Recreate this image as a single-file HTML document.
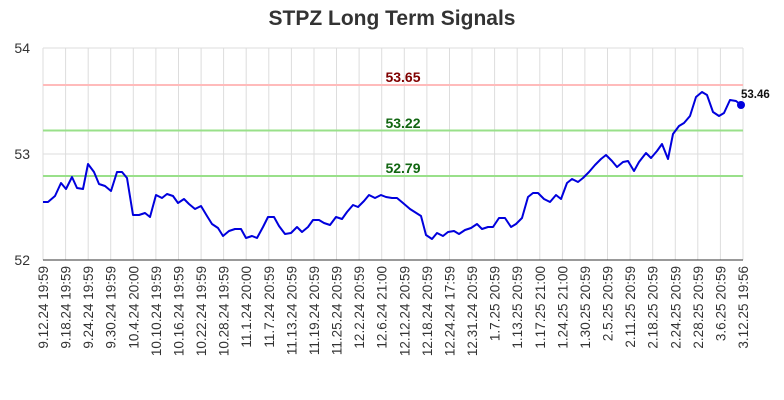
<!DOCTYPE html>
<html><head><meta charset="utf-8"><style>body{margin:0;background:#fff}svg{display:block}</style></head><body>
<svg width="784" height="400" xmlns="http://www.w3.org/2000/svg" font-family="Liberation Sans, DejaVu Sans, sans-serif">
<text x="392" y="25" text-anchor="middle" font-size="21" font-weight="bold" fill="#333">STPZ Long Term Signals</text>
<g stroke="#ddd" stroke-width="1">
<line x1="43" y1="48" x2="743" y2="48"/><line x1="43" y1="154" x2="743" y2="154"/>
<line x1="43.0" y1="48" x2="43.0" y2="260"/><line x1="65.6" y1="48" x2="65.6" y2="260"/><line x1="88.2" y1="48" x2="88.2" y2="260"/><line x1="110.7" y1="48" x2="110.7" y2="260"/><line x1="133.3" y1="48" x2="133.3" y2="260"/><line x1="155.9" y1="48" x2="155.9" y2="260"/><line x1="178.5" y1="48" x2="178.5" y2="260"/><line x1="201.1" y1="48" x2="201.1" y2="260"/><line x1="223.6" y1="48" x2="223.6" y2="260"/><line x1="246.2" y1="48" x2="246.2" y2="260"/><line x1="268.8" y1="48" x2="268.8" y2="260"/><line x1="291.4" y1="48" x2="291.4" y2="260"/><line x1="314.0" y1="48" x2="314.0" y2="260"/><line x1="336.5" y1="48" x2="336.5" y2="260"/><line x1="359.1" y1="48" x2="359.1" y2="260"/><line x1="381.7" y1="48" x2="381.7" y2="260"/><line x1="404.3" y1="48" x2="404.3" y2="260"/><line x1="426.9" y1="48" x2="426.9" y2="260"/><line x1="449.5" y1="48" x2="449.5" y2="260"/><line x1="472.0" y1="48" x2="472.0" y2="260"/><line x1="494.6" y1="48" x2="494.6" y2="260"/><line x1="517.2" y1="48" x2="517.2" y2="260"/><line x1="539.8" y1="48" x2="539.8" y2="260"/><line x1="562.4" y1="48" x2="562.4" y2="260"/><line x1="584.9" y1="48" x2="584.9" y2="260"/><line x1="607.5" y1="48" x2="607.5" y2="260"/><line x1="630.1" y1="48" x2="630.1" y2="260"/><line x1="652.7" y1="48" x2="652.7" y2="260"/><line x1="675.3" y1="48" x2="675.3" y2="260"/><line x1="697.8" y1="48" x2="697.8" y2="260"/><line x1="720.4" y1="48" x2="720.4" y2="260"/><line x1="743.0" y1="48" x2="743.0" y2="260"/>
</g>
<line x1="43" y1="85" x2="743" y2="85" stroke="#ffbbbb" stroke-width="2"/>
<line x1="43" y1="130.5" x2="743" y2="130.5" stroke="#99e08a" stroke-width="2"/>
<line x1="43" y1="176" x2="743" y2="176" stroke="#99e08a" stroke-width="2"/>
<line x1="43" y1="260" x2="743" y2="260" stroke="#333" stroke-width="1"/>
<g font-size="14" font-weight="bold" text-anchor="middle">
<text x="403" y="82" fill="#800000">53.65</text>
<text x="403" y="128" fill="#116611">53.22</text>
<text x="403" y="173" fill="#116611">52.79</text>
</g>
<g font-size="14" fill="#333" text-anchor="end">
<text x="30" y="53">54</text><text x="30" y="159">53</text><text x="30" y="265">52</text>
</g>
<polyline fill="none" stroke="#0000dd" stroke-width="2" stroke-linejoin="round" points="43,202 48,202 55,196 61,183 66,189 72,177 77,188 83,189 88,164 94,172 99,184 105,186 111,191 117,172 122,172 127,178 133,215 139,215 145,213 150,217 156,195 162,198 167,194 173,196 178,203 184,199 189,204 195,209 201,206 207,216 212,224 218,228 223,236 229,231 235,229 241,229 246,238 252,236 257,238 263,227 268,217 274,217 279,226 285,234 291,233 297,227 302,232 308,227 313,220 319,220 324,223 330,225 336,217 342,219 347,212 353,205 358,207 364,201 369,195 375,198 381,195 386,197 392,198 397,198 403,203 410,209 421,216 426,235 432,239 437,233 443,236 448,232 454,231 459,234 465,230 471,228 477,224 482,229 488,227 493,227 499,218 505,218 511,227 516,224 522,218 528,197 533,193 538,193 544,199 550,202 556,195 561,199 567,183 572,179 578,182 583,178 589,172 595,165 601,159 606,155 612,161 617,167 623,162 628,161 634,171 639,162 646,153 651,158 657,151 662,144 668,159 673,134 679,126 684,123 690,116 696,97 702,92 707,95 713,112 719,116 724,113 730,100 736,101 741,105"/>
<circle cx="741" cy="105" r="4" fill="#0000dd"/>
<text x="741" y="98" font-size="11.5" font-weight="bold" fill="#111">53.46</text>
<g font-size="13.5" fill="#333" text-anchor="end">
<text transform="translate(48.0,266) rotate(-90)">9.12.24 19:59</text>
<text transform="translate(70.6,266) rotate(-90)">9.18.24 19:59</text>
<text transform="translate(93.2,266) rotate(-90)">9.24.24 19:59</text>
<text transform="translate(115.7,266) rotate(-90)">9.30.24 19:59</text>
<text transform="translate(138.3,266) rotate(-90)">10.4.24 20:00</text>
<text transform="translate(160.9,266) rotate(-90)">10.10.24 19:59</text>
<text transform="translate(183.5,266) rotate(-90)">10.16.24 19:59</text>
<text transform="translate(206.1,266) rotate(-90)">10.22.24 19:59</text>
<text transform="translate(228.6,266) rotate(-90)">10.28.24 19:59</text>
<text transform="translate(251.2,266) rotate(-90)">11.1.24 20:00</text>
<text transform="translate(273.8,266) rotate(-90)">11.7.24 20:59</text>
<text transform="translate(296.4,266) rotate(-90)">11.13.24 20:59</text>
<text transform="translate(319.0,266) rotate(-90)">11.19.24 20:59</text>
<text transform="translate(341.5,266) rotate(-90)">11.25.24 20:59</text>
<text transform="translate(364.1,266) rotate(-90)">12.2.24 20:59</text>
<text transform="translate(386.7,266) rotate(-90)">12.6.24 21:00</text>
<text transform="translate(409.3,266) rotate(-90)">12.12.24 20:59</text>
<text transform="translate(431.9,266) rotate(-90)">12.18.24 20:59</text>
<text transform="translate(454.5,266) rotate(-90)">12.24.24 17:59</text>
<text transform="translate(477.0,266) rotate(-90)">12.31.24 20:59</text>
<text transform="translate(499.6,266) rotate(-90)">1.7.25 20:59</text>
<text transform="translate(522.2,266) rotate(-90)">1.13.25 20:59</text>
<text transform="translate(544.8,266) rotate(-90)">1.17.25 21:00</text>
<text transform="translate(567.4,266) rotate(-90)">1.24.25 21:00</text>
<text transform="translate(589.9,266) rotate(-90)">1.30.25 20:59</text>
<text transform="translate(612.5,266) rotate(-90)">2.5.25 20:59</text>
<text transform="translate(635.1,266) rotate(-90)">2.11.25 20:59</text>
<text transform="translate(657.7,266) rotate(-90)">2.18.25 20:59</text>
<text transform="translate(680.3,266) rotate(-90)">2.24.25 20:59</text>
<text transform="translate(702.8,266) rotate(-90)">2.28.25 20:59</text>
<text transform="translate(725.4,266) rotate(-90)">3.6.25 20:59</text>
<text transform="translate(748.0,266) rotate(-90)">3.12.25 19:56</text>
</g>
</svg>
</body></html>
